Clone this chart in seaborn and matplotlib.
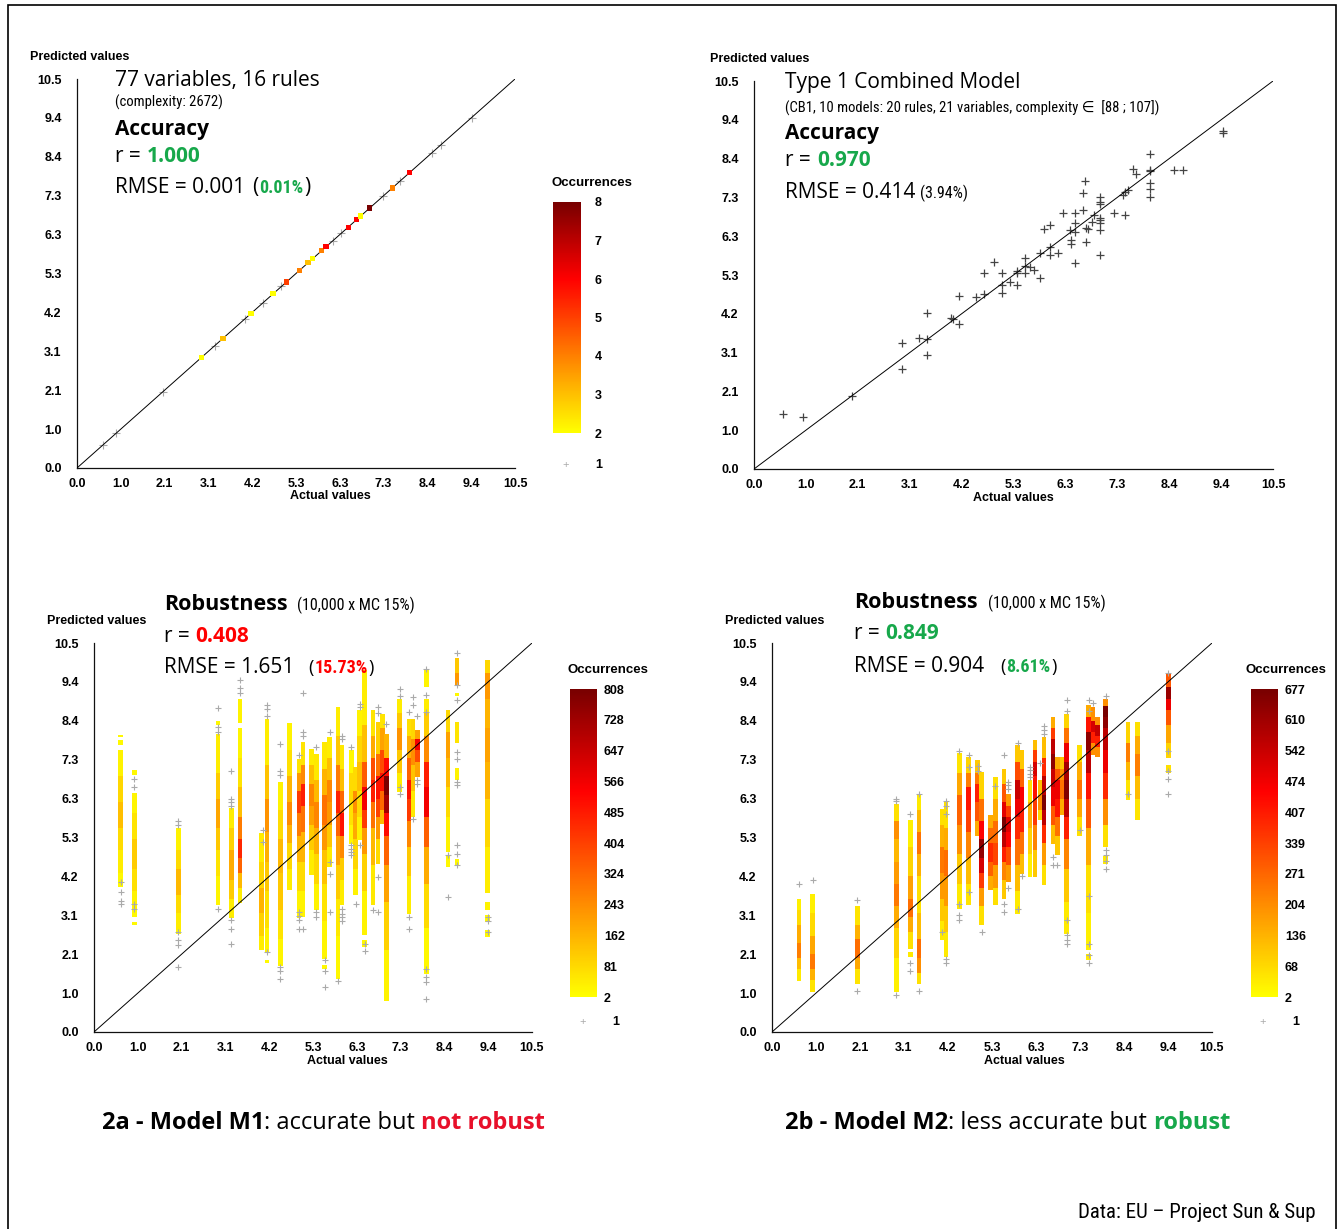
import matplotlib
matplotlib.use("Agg")
import matplotlib.pyplot as plt
import matplotlib.colors as mcolors
from matplotlib import font_manager
from matplotlib.patches import Rectangle
import numpy as np
import pandas as pd
import seaborn as sns

# ---------------- data ----------------
tick_labels = ["0.0", "1.0", "2.1", "3.1", "4.2", "5.3", "6.3", "7.3", "8.4", "9.4", "10.5"]

# M1 accuracy: points on the diagonal (actual == predicted)
m1_acc_x = [2.98, 3.50, 4.17, 4.70, 5.02, 5.33, 5.54, 5.65, 5.86, 5.97, 6.50, 6.70, 6.80, 7.02, 7.56, 7.97]
m1_acc_n = [2, 3, 2, 2, 5, 4, 3, 2, 4, 6, 6, 6, 2, 8, 4, 6]
m1_acc_single = [0.62, 0.94, 2.05, 3.3, 4.02, 4.46, 4.9, 6.14, 6.34, 7.34, 7.74, 8.5, 8.72, 9.46]

# M2 accuracy: (actual, predicted)
m2_acc = [(0.59, 1.49), (0.99, 1.42), (1.99, 1.98), (3.0, 3.40), (3.0, 2.70), (3.34, 3.54),
          (3.50, 4.23), (3.50, 3.51), (3.50, 3.09), (3.98, 4.08), (4.02, 4.05), (4.15, 4.68),
          (4.15, 3.92), (4.50, 4.66), (4.66, 5.30), (4.66, 4.73), (4.85, 5.61), (5.01, 5.30),
          (5.01, 4.98), (5.01, 4.75), (5.17, 5.05), (5.32, 5.30), (5.32, 4.98), (5.32, 5.36),
          (5.49, 5.70), (5.49, 5.50), (5.49, 5.31), (5.59, 5.48), (5.67, 5.39), (5.79, 5.16),
          (5.79, 5.84), (5.86, 6.49), (5.98, 6.60), (5.98, 6.02), (5.98, 5.79), (6.15, 5.84),
          (6.25, 6.92), (6.39, 6.47), (6.41, 6.20), (6.41, 6.09), (6.50, 6.92), (6.50, 6.66),
          (6.50, 6.42), (6.50, 5.58), (6.66, 7.46), (6.66, 7.01), (6.70, 7.79), (6.71, 6.53),
          (6.71, 6.15), (6.76, 6.49), (6.83, 6.69), (6.87, 6.87), (7.01, 7.37), (7.01, 7.23),
          (7.01, 7.17), (7.01, 6.80), (7.01, 6.74), (7.01, 6.67), (7.01, 6.47), (7.01, 5.79),
          (7.28, 6.94), (7.47, 7.41), (7.50, 7.50), (7.50, 6.87), (7.57, 7.56), (7.67, 8.13),
          (7.72, 7.97), (8.02, 8.52), (8.02, 8.10), (8.02, 8.07), (8.02, 7.73), (8.02, 7.57),
          (8.02, 7.37), (8.50, 8.09), (8.68, 8.09), (9.49, 9.15), (9.49, 9.08)]

# M1 robustness strips: x, segment edges, occurrences per segment (0 = gap)
m1_strip_x = [0.64, 0.97, 2.02, 2.97, 3.29, 3.5, 4.02, 4.15, 4.47, 4.69, 4.91, 5.01, 5.21, 5.33,
              5.53, 5.65, 5.85, 5.95, 6.17, 6.27, 6.37, 6.49, 6.69, 6.81, 6.91, 7.01, 7.33, 7.55,
              7.65, 7.75, 7.97, 8.49, 8.7, 9.44]
m1_strip_edges = [
    [3.91, 4.3, 4.9, 5.5, 6.2, 6.9, 7.62, 7.74, 7.87, 7.96, 8.03],
    [2.9, 2.98, 3.1, 3.28, 3.8, 4.4, 5.2, 5.9, 6.46, 6.95, 7.08],
    [2.64, 2.74, 3.2, 3.7, 4.4, 4.9, 5.51],
    [3.42, 4.2, 4.9, 5.5, 6.3, 7.0, 8.05, 8.3, 8.4],
    [3.09, 3.6, 4.1, 4.9, 5.5, 6.05],
    [3.48, 3.9, 4.3, 4.7, 5.2, 5.8, 6.6, 7.4, 8.2, 8.35, 9.0],
    [2.22, 2.6, 3.2, 3.9, 4.6, 5.37],
    [1.85, 1.95, 2.16, 2.8, 3.8, 4.6, 5.4, 6.3, 7.2, 8.45],
    [1.77, 2.5, 3.3, 4.3, 5.2, 6.0, 6.75],
    [3.82, 4.4, 5.1, 5.6, 6.2, 6.9, 7.6, 8.35],
    [3.09, 3.8, 4.6, 5.3, 5.9, 6.5, 7.0, 7.38],
    [3.1, 3.8, 4.6, 5.4, 6.1, 6.7, 7.2, 7.83],
    [4.23, 4.9, 5.6, 6.1, 6.7, 7.2, 7.65],
    [3.28, 4.0, 4.8, 5.5, 6.2, 6.8, 7.51],
    [1.7, 1.82, 1.98, 3.0, 4.0, 4.9, 5.6, 6.4, 7.1, 7.83],
    [4.45, 5.0, 5.6, 6.2, 6.8, 7.4, 7.96],
    [1.44, 2.6, 3.6, 4.5, 5.3, 5.9, 6.5, 7.2, 8.0, 8.77],
    [3.42, 4.1, 4.7, 5.3, 5.9, 6.5, 7.1, 7.74],
    [5.08, 5.6, 6.2, 7.0, 7.6],
    [3.71, 4.4, 5.2, 5.9, 6.5, 7.15],
    [5.17, 5.8, 6.5, 7.3, 8.0, 8.68],
    [2.3, 2.47, 2.62, 3.8, 4.8, 5.5, 6.0, 6.6, 7.3, 8.3, 9.76],
    [3.42, 4.5, 5.5, 6.2, 6.8, 7.4, 8.0, 8.68],
    [4.54, 5.2, 5.8, 6.3, 6.9, 7.5, 8.37],
    [5.62, 6.0, 6.5, 7.0, 7.6, 8.2, 8.59],
    [0.85, 2.2, 3.5, 4.5, 5.3, 5.9, 6.4, 6.9, 7.4, 8.05],
    [6.48, 7.0, 7.6, 8.2, 8.6, 9.0],
    [3.19, 4.2, 5.0, 5.7, 6.3, 6.8, 7.4, 8.0, 8.45],
    [5.8, 6.5, 7.2, 7.9, 8.45],
    [6.88, 7.3, 7.6, 7.9, 8.16],
    [1.57, 2.8, 4.0, 5.0, 5.8, 6.6, 7.3, 8.0, 8.6, 9.0, 9.3, 9.76],
    [4.45, 4.75, 4.85, 5.8, 6.6, 7.4, 8.1, 8.7],
    [4.47, 4.68, 6.79, 7.12, 7.79, 8.36, 9.07, 9.15, 9.36, 9.7, 10.09],
    [2.56, 2.75, 2.98, 3.15, 3.28, 3.5, 3.75, 5.0, 6.3, 7.3, 8.2, 9.0, 9.7, 10.05],
]
m1_strip_counts = [
    [15, 40, 80, 140, 90, 30, 0, 15, 0, 15],
    [15, 0, 15, 30, 70, 110, 60, 25, 0, 15],
    [15, 40, 80, 150, 80, 30],
    [25, 60, 120, 190, 110, 40, 0, 15],
    [40, 110, 180, 100, 40],
    [40, 150, 330, 460, 280, 140, 60, 25, 0, 30],
    [40, 100, 160, 90, 40],
    [15, 0, 30, 70, 120, 170, 230, 130, 40],
    [25, 60, 120, 150, 80, 30],
    [40, 90, 170, 250, 160, 70, 30],
    [30, 80, 160, 280, 420, 220, 60],
    [30, 80, 160, 300, 480, 250, 60],
    [40, 110, 200, 260, 140, 40],
    [30, 90, 170, 260, 150, 50],
    [15, 0, 25, 60, 130, 220, 300, 160, 50],
    [40, 120, 220, 260, 140, 40],
    [20, 50, 110, 200, 330, 470, 280, 120, 40],
    [40, 110, 250, 500, 320, 140, 50],
    [20, 60, 80, 20],
    [30, 90, 180, 240, 80],
    [30, 80, 140, 90, 30],
    [15, 0, 30, 100, 220, 420, 560, 350, 140, 40],
    [50, 150, 300, 480, 380, 180, 60],
    [80, 220, 400, 500, 300, 100],
    [150, 320, 500, 380, 200, 60],
    [30, 100, 200, 330, 520, 720, 800, 520, 160],
    [40, 120, 230, 120, 40],
    [40, 120, 260, 420, 500, 330, 180, 70],
    [50, 130, 240, 90],
    [200, 380, 560, 200],
    [20, 80, 180, 340, 560, 480, 250, 110, 40, 0, 25],
    [20, 0, 30, 80, 150, 200, 90],
    [20, 0, 30, 0, 60, 0, 20, 0, 220, 120],
    [20, 0, 20, 0, 30, 0, 40, 90, 160, 200, 160, 220, 90],
]
m1_single = [(0.64, 4.05), (0.64, 3.78), (0.64, 3.54), (0.64, 3.46), (0.97, 6.82), (0.97, 6.61),
             (0.97, 3.46), (0.97, 3.33), (2.02, 5.69), (2.02, 5.58), (2.02, 2.7), (2.02, 2.47),
             (2.02, 2.36), (2.02, 1.75), (2.97, 8.74), (2.97, 8.23), (2.97, 8.1), (2.97, 3.33),
             (3.29, 7.04), (3.29, 6.3), (3.29, 6.2), (3.29, 6.1), (3.29, 3.03), (3.29, 2.79),
             (3.29, 2.38), (3.5, 9.51), (3.5, 9.29), (3.5, 9.15), (4.05, 5.44), (4.05, 5.13),
             (4.15, 8.82), (4.15, 8.73), (4.15, 8.52), (4.15, 2.16), (4.47, 7.78), (4.47, 7.04),
             (4.47, 6.95), (4.47, 1.75), (4.47, 1.65), (4.47, 1.42), (4.91, 7.47), (4.91, 3.24),
             (4.91, 3.12), (4.91, 3.03), (4.91, 2.79), (5.01, 9.15), (5.01, 8.1), (5.01, 8.0),
             (5.01, 2.79), (5.33, 7.69), (5.33, 3.24), (5.33, 3.1), (5.53, 1.93), (5.53, 1.66),
             (5.53, 1.21), (5.65, 8.1), (5.65, 4.59), (5.65, 4.27), (5.65, 3.24), (5.85, 1.39),
             (5.95, 8.0), (5.95, 7.92), (5.95, 3.33), (5.95, 3.19), (5.95, 3.1), (5.95, 3.0),
             (6.17, 7.69), (6.17, 5.04), (6.17, 4.95), (6.17, 4.86), (6.17, 4.77), (6.27, 3.46),
             (6.37, 8.86), (6.37, 8.77), (6.37, 5.04), (6.49, 2.38), (6.49, 2.19), (6.69, 3.28),
             (6.81, 8.77), (6.81, 8.6), (6.81, 4.18), (6.81, 3.24), (7.01, 8.32), (7.33, 9.27),
             (7.33, 9.06), (7.33, 6.61), (7.33, 6.43), (7.55, 8.64), (7.55, 3.1), (7.55, 2.79),
             (7.65, 9.04), (7.65, 8.82), (7.65, 5.76), (7.75, 8.52), (7.75, 6.79), (7.75, 6.7),
             (7.97, 9.8), (7.97, 9.09), (7.97, 8.64), (7.97, 1.71), (7.97, 1.48), (7.97, 1.35),
             (7.97, 0.9), (8.49, 4.77), (8.49, 3.64), (8.7, 10.23), (8.7, 9.36), (8.7, 8.95),
             (8.7, 7.56), (8.7, 7.38), (8.7, 6.75), (8.7, 6.66), (8.7, 5.04), (8.7, 4.81),
             (8.7, 4.5), (9.44, 3.1), (9.44, 3.0), (9.44, 2.7)]

# M2 robustness strips
m2_strip_x = [0.64, 0.97, 2.04, 2.97, 3.3, 3.51, 4.06, 4.15, 4.47, 4.69, 4.91, 5.0, 5.21, 5.33,
              5.54, 5.64, 5.86, 5.97, 6.16, 6.28, 6.4, 6.49, 6.71, 6.81, 6.92, 7.03, 7.34, 7.56,
              7.66, 7.77, 7.96, 8.5, 8.72, 9.46]
m2_strip_edges = [
    [1.39, 1.7, 2.0, 2.4, 2.9, 3.3, 3.6],
    [1.08, 1.4, 1.7, 2.1, 2.6, 3.2, 3.73],
    [1.3, 1.7, 2.0, 2.5, 2.9, 3.39],
    [1.08, 2.0, 2.8, 3.4, 4.0, 4.6, 5.2, 5.7, 6.16],
    [2.02, 2.15, 2.25, 2.7, 3.1, 3.6, 4.2, 5.0, 5.71],
    [1.29, 1.6, 2.0, 2.5, 3.2, 4.2, 4.8, 5.4, 6.0, 6.39],
    [2.47, 3.0, 3.6, 4.3, 5.0, 5.6, 6.03],
    [2.02, 2.7, 3.4, 4.2, 4.9, 5.5, 6.23],
    [3.33, 4.0, 4.8, 5.6, 6.4, 7.0, 7.53],
    [3.42, 4.0, 4.7, 5.4, 6.0, 6.6, 7.0, 7.42],
    [5.3, 5.7, 6.2, 6.7, 7.0, 7.33],
    [2.88, 3.4, 3.9, 4.3, 4.7, 5.2, 5.7, 6.3, 7.02],
    [3.82, 4.2, 4.6, 5.1, 5.5, 5.85],
    [3.42, 3.9, 4.5, 5.1, 5.7, 6.3, 6.88],
    [3.6, 4.1, 4.6, 5.0, 5.4, 5.8, 6.2, 6.7, 7.1],
    [4.05, 4.5, 5.0, 5.4, 5.8, 6.1, 6.43],
    [3.19, 3.8, 4.5, 5.2, 5.8, 6.3, 6.8, 7.3, 7.74],
    [4.27, 4.8, 5.4, 6.0, 6.6, 7.1, 7.6],
    [4.18, 4.8, 5.5, 6.2, 6.79],
    [4.18, 4.9, 5.6, 6.3, 6.9, 7.3, 7.6, 7.87],
    [5.71, 6.0, 6.4, 6.79],
    [3.96, 4.5, 5.1, 5.6, 6.0, 6.4, 6.9, 7.4, 7.96],
    [5.08, 5.6, 6.1, 6.6, 7.1, 7.5, 7.9, 8.2, 8.5],
    [4.77, 5.3, 5.8, 6.3, 6.8, 7.1, 7.42],
    [5.85, 6.3, 6.8, 7.1, 7.42],
    [2.65, 3.5, 4.4, 5.2, 5.8, 6.3, 6.8, 7.3, 7.8, 8.2, 8.59],
    [5.3, 5.8, 6.3, 6.8, 7.3, 7.74],
    [1.93, 2.1, 2.2, 3.2, 4.5, 5.5, 6.3, 7.0, 7.6, 8.1, 8.5, 8.82],
    [7.47, 7.8, 8.1, 8.4, 8.77],
    [7.42, 7.7, 8.0, 8.3, 8.5],
    [4.54, 4.75, 5.0, 5.6, 6.3, 7.0, 7.6, 8.2, 8.5, 8.8, 9.0],
    [6.25, 6.8, 7.3, 7.8, 8.37],
    [5.71, 6.3, 6.9, 7.5, 8.0, 8.37],
    [7.0, 7.2, 7.4, 7.8, 8.3, 8.7, 9.0, 9.3, 9.67],
]
m2_strip_counts = [
    [40, 120, 230, 150, 70, 30],
    [50, 140, 240, 160, 70, 30],
    [50, 160, 260, 140, 50],
    [30, 80, 150, 240, 180, 130, 200, 60],
    [40, 0, 60, 150, 260, 170, 80, 30],
    [60, 200, 260, 120, 60, 140, 250, 130, 40],
    [40, 100, 180, 240, 140, 60],
    [40, 100, 180, 260, 150, 60],
    [40, 100, 200, 280, 160, 50],
    [50, 120, 220, 340, 420, 230, 80],
    [150, 300, 400, 240, 100],
    [60, 180, 350, 520, 630, 450, 250, 80],
    [150, 280, 380, 260, 150],
    [60, 180, 330, 260, 150, 60],
    [100, 220, 400, 560, 670, 500, 300, 100],
    [180, 320, 450, 500, 350, 180],
    [40, 120, 250, 380, 480, 540, 320, 100],
    [120, 250, 400, 460, 280, 100],
    [30, 80, 140, 60],
    [100, 220, 350, 420, 520, 350, 120],
    [80, 200, 120],
    [60, 180, 380, 560, 670, 560, 380, 120],
    [120, 300, 480, 540, 640, 560, 350, 150],
    [100, 250, 420, 480, 300, 150],
    [150, 250, 200, 100],
    [40, 100, 220, 400, 560, 660, 600, 480, 250, 80],
    [60, 150, 250, 150, 60],
    [40, 0, 30, 60, 150, 300, 420, 560, 640, 420, 150],
    [200, 400, 520, 200],
    [200, 400, 550, 200],
    [40, 0, 60, 200, 380, 480, 560, 640, 677, 200],
    [50, 130, 230, 80],
    [50, 120, 230, 150, 60],
    [60, 0, 80, 160, 300, 480, 620, 300],
]
m2_single = [(0.64, 3.99), (0.97, 4.09), (2.04, 3.55), (2.04, 1.12), (2.97, 6.3), (2.97, 6.23),
             (2.97, 0.99), (3.3, 5.89), (3.3, 1.86), (3.3, 1.65), (3.51, 6.43), (3.51, 1.12),
             (4.06, 2.7), (4.15, 6.23), (4.15, 6.09), (4.15, 5.89), (4.15, 1.98), (4.15, 1.86),
             (4.47, 7.58), (4.47, 3.46), (4.47, 3.15), (4.47, 3.03), (4.69, 7.49), (4.69, 7.15),
             (4.69, 3.78), (4.91, 7.17), (4.91, 7.04), (5.0, 2.7), (5.33, 6.63), (5.54, 7.49),
             (5.54, 3.46), (5.54, 3.24), (5.64, 6.75), (5.64, 6.66), (5.64, 6.57), (5.64, 3.9),
             (5.86, 7.8), (5.86, 3.33), (5.97, 4.2), (6.16, 7.15), (6.16, 7.06), (6.16, 6.97),
             (6.16, 6.88), (6.4, 7.26), (6.49, 8.25), (6.49, 8.14), (6.49, 8.05), (6.71, 4.72),
             (6.71, 4.5), (6.81, 4.5), (7.03, 8.97), (7.03, 8.66), (7.03, 3.01), (7.03, 2.61),
             (7.03, 2.49), (7.03, 2.38), (7.34, 5.46), (7.56, 8.97), (7.56, 8.66), (7.56, 3.66),
             (7.56, 2.38), (7.56, 2.07), (7.56, 1.86), (7.66, 8.88), (7.96, 9.06), (7.96, 4.9),
             (7.96, 4.77), (7.96, 4.61), (7.96, 4.41), (8.5, 6.43), (9.46, 9.69), (9.46, 7.58),
             (9.46, 7.04), (9.46, 6.84), (9.46, 6.43)]

cbar_top_labels = ["2", "3", "4", "5", "6", "7", "8"]
cbar_m1_labels = ["2", "81", "162", "243", "324", "404", "485", "566", "647", "728", "808"]
cbar_m2_labels = ["2", "68", "136", "204", "271", "339", "407", "474", "542", "610", "677"]

# ---------------- style ----------------
sns.set_style("white")
plt.rcParams['font.family'] = ['Open Sans', 'DejaVu Sans']
plt.rcParams['text.color'] = 'black'
plt.rcParams['xtick.color'] = 'black'
plt.rcParams['ytick.color'] = 'black'

# pick a narrow face for the condensed annotations, if one is installed
names = {f.name for f in font_manager.fontManager.ttflist}
NARROW = dict(family=['Roboto', 'DejaVu Sans'])
NSCALE = 0.86
for cand in ['Roboto Condensed', 'Liberation Sans Narrow', 'Open Sans Condensed',
             'Noto Sans Condensed', 'DejaVu Sans Condensed']:
    if cand in names:
        NARROW = dict(family=[cand, 'DejaVu Sans'])
        NSCALE = 1.0
        break


def nar(size, **kw):
    d = dict(NARROW)
    d['fontsize'] = size * NSCALE
    d.update(kw)
    return d


TICKF = ['Liberation Sans', 'DejaVu Sans']
GREEN = '#17a84b'
RED = '#ff0000'
CRIMSON = '#e8102a'
cmap = mcolors.LinearSegmentedColormap.from_list(
    'occ', [(0, '#ffff00'), (0.667, '#ff0000'), (1, '#780000')])

W, H = 1344, 1229
fig = plt.figure(figsize=(W / 100, H / 100), dpi=100)
renderer = fig.canvas.get_renderer()


def px_axes(x0, y0, x1, y1):
    return fig.add_axes([x0 / W, 1 - y1 / H, (x1 - x0) / W, (y1 - y0) / H])


def ftext(x, y, s, **kw):
    kw.setdefault('va', 'baseline')
    return fig.text(x / W, 1 - y / H, s, **kw)


def rich(x, y, parts):
    # parts: (text, kwargs, gap after in px)
    for s, kw, gap in parts:
        t = ftext(x, y, s, ha='left', **kw)
        x += t.get_window_extent(renderer).width + gap


tick_pos = np.linspace(0, 10.5, len(tick_labels))


def style_axes(ax):
    ax.set_xlim(0, 10.5)
    ax.set_ylim(0, 10.5)
    ax.set_xticks(tick_pos, tick_labels, fontsize=9, fontweight='bold', family=TICKF)
    ax.set_yticks(tick_pos, tick_labels, fontsize=9, fontweight='bold', family=TICKF)
    for s in ['top', 'right']:
        ax.spines[s].set_visible(False)
    for s in ['left', 'bottom']:
        ax.spines[s].set_color('#111111')
        ax.spines[s].set_linewidth(0.9)
    ax.tick_params(axis='y', length=7, width=0.8, direction='out', pad=4, colors='black')
    ax.tick_params(axis='x', length=0, pad=7, colors='black')
    ax.set_xlabel('')
    ax.set_ylabel('')
    ax.patch.set_alpha(0)
    ax.plot([0, 10.5], [0, 10.5], color='black', lw=0.7, zorder=4)


def draw_strips(ax, xs, edges, counts, norm):
    rows = []
    for x, e, c in zip(xs, edges, counts):
        for lo, hi, n in zip(e[:-1], e[1:], c):
            if n > 0:
                rows.append((x, lo, hi - lo, n))
    seg = pd.DataFrame(rows, columns=['x', 'bottom', 'height', 'count'])
    ax.bar(seg['x'], seg['height'], bottom=seg['bottom'], width=0.11,
           color=cmap(norm(seg['count'].to_numpy())), linewidth=0, zorder=2)


def singles(ax, pts):
    df = pd.DataFrame(pts, columns=['x', 'y'])
    sns.scatterplot(data=df, x='x', y='y', ax=ax, marker='+', s=22, color='#aaaaaa',
                    linewidth=0.8, zorder=3)


def colorbar(box, norm, labels, pad, title_xy, one_xy):
    cax = px_axes(*box)
    sm = plt.cm.ScalarMappable(norm=norm, cmap=cmap)
    cb = fig.colorbar(sm, cax=cax)
    cb.outline.set_visible(False)
    cb.set_ticks(np.linspace(norm.vmin, norm.vmax, len(labels)))
    cb.set_ticklabels(labels)
    cax.tick_params(length=0, pad=pad, labelsize=9)
    for lab in cax.get_yticklabels():
        lab.set_fontweight('bold')
        lab.set_family(TICKF)
    ftext(title_xy[0], title_xy[1], "Occurrences", fontsize=9.5, fontweight='bold', family=TICKF)
    ftext(one_xy[0], one_xy[1], "+", fontsize=8, color='#aaaaaa', family=TICKF, va='center',
          ha='center')
    ftext(one_xy[2], one_xy[1], "1", fontsize=9, fontweight='bold', family=TICKF, va='center')


# ---------------- panel 1: M1 accuracy ----------------
ax1 = px_axes(77, 79, 515, 468)
df1 = pd.DataFrame({'x': m1_acc_x, 'y': m1_acc_x, 'n': m1_acc_n})
sns.scatterplot(data=pd.DataFrame({'x': m1_acc_single, 'y': m1_acc_single}), x='x', y='y',
                ax=ax1, marker='+', s=26, color='#aaaaaa', linewidth=0.8, zorder=3)
norm_top = mcolors.Normalize(2, 8)
sns.scatterplot(data=df1, x='x', y='y', hue='n', palette=cmap, hue_norm=norm_top, ax=ax1,
                marker='s', s=14, linewidth=0, legend=False, zorder=5)
style_axes(ax1)
colorbar((553, 202, 581, 433), norm_top, cbar_top_labels, 10, (552, 186), (566, 465, 595))

# ---------------- panel 2: M2 accuracy ----------------
ax2 = px_axes(754, 81, 1273, 469)
df2 = pd.DataFrame(m2_acc, columns=['x', 'y'])
sns.scatterplot(data=df2, x='x', y='y', ax=ax2, marker='+', s=30, color='#444444',
                linewidth=0.9, zorder=3)
style_axes(ax2)

# ---------------- panel 3: M1 robustness ----------------
ax3 = px_axes(94, 643, 532, 1032)
norm_m1 = mcolors.Normalize(2, 808)
draw_strips(ax3, m1_strip_x, m1_strip_edges, m1_strip_counts, norm_m1)
singles(ax3, m1_single)
style_axes(ax3)
colorbar((570, 689, 597, 997), norm_m1, cbar_m1_labels, 5, (568, 673), (583, 1022, 612))

# ---------------- panel 4: M2 robustness ----------------
ax4 = px_axes(772, 643, 1212, 1032)
norm_m2 = mcolors.Normalize(2, 677)
draw_strips(ax4, m2_strip_x, m2_strip_edges, m2_strip_counts, norm_m2)
singles(ax4, m2_single)
style_axes(ax4)
colorbar((1251, 689, 1278, 997), norm_m2, cbar_m2_labels, 5, (1246, 673), (1263, 1022, 1292))

# ---------------- axis titles ----------------
small_bold = dict(fontsize=9, fontweight='bold', family=TICKF)
for x, y in [(30, 60), (710, 62), (47, 624), (725, 624)]:
    ftext(x, y, "Predicted values", **small_bold)
for x, y in [(330, 499), (1013, 501), (347, 1064), (1024, 1064)]:
    ftext(x, y, "Actual values", ha='center', **small_bold)

# ---------------- annotations ----------------
REG = dict(fontsize=15)
BIG = dict(fontsize=15, fontweight='bold')

# top-left
ftext(115, 86, "77 variables, 16 rules", fontsize=15)
ftext(115, 107, "(complexity: 2672)", **nar(10.5))
ftext(115, 135, "Accuracy", **BIG)
rich(115, 162, [("r =", REG, 6), ("1.000", dict(fontsize=15, fontweight='bold', color=GREEN), 0)])
rich(115, 193, [("RMSE = 0.001", REG, 7), ("(", REG, 1),
                ("0.01%", nar(13, fontweight='bold', color=GREEN), 1),
                (")", REG, 0)])

# top-right
ftext(785, 88, "Type 1 Combined Model", fontsize=15)
ftext(785, 113, "(CB1, 10 models: 20 rules, 21 variables, complexity \u2208  [88 ; 107])", **nar(10.5))
ftext(785, 139, "Accuracy", **BIG)
rich(785, 166, [("r =", REG, 6), ("0.970", dict(fontsize=15, fontweight='bold', color=GREEN), 0)])
rich(785, 198, [("RMSE = 0.414", REG, 5), ("(3.94%)", nar(11.5), 0)])

# bottom-left
ftext(164, 610, "Robustness", fontsize=15.5, fontweight='bold')
ftext(297, 610, "(10,000 x MC 15%)", **nar(11.5))
rich(164, 642, [("r =", REG, 6), ("0.408", dict(fontsize=15, fontweight='bold', color=RED), 0)])
ftext(164, 673, "RMSE = 1.651", **REG)
rich(308, 673, [("(", dict(fontsize=13), 1),
                ("15.73%", nar(13, fontweight='bold', color=RED), 1),
                (")", dict(fontsize=13), 0)])

# bottom-right
ftext(854, 608, "Robustness", fontsize=15.5, fontweight='bold')
ftext(988, 608, "(10,000 x MC 15%)", **nar(11.5))
rich(854, 639, [("r =", REG, 6), ("0.849", dict(fontsize=15, fontweight='bold', color=GREEN), 0)])
ftext(854, 672, "RMSE = 0.904", **REG)
rich(1000, 672, [("(", dict(fontsize=13), 1),
                 ("8.61%", nar(13, fontweight='bold', color=GREEN), 1),
                 (")", dict(fontsize=13), 0)])

# captions
CAPB = dict(fontsize=17, fontweight='bold')
CAPR = dict(fontsize=17)
rich(102, 1129, [("2a - Model M1", CAPB, 0), (": accurate but", CAPR, 6),
                 ("not robust", dict(fontsize=17, fontweight='bold', color=CRIMSON), 0)])
rich(785, 1129, [("2b - Model M2", CAPB, 0), (": less accurate but", CAPR, 6),
                 ("robust", dict(fontsize=17, fontweight='bold', color=GREEN), 0)])

ftext(1316, 1218, "Data: EU \u2013 Project Sun & Sup", ha='right', **nar(15))

# frame
fig.patches.append(Rectangle((8 / W, -0.01), (1336 - 8) / W, 1.01 - 5 / H, transform=fig.transFigure,
                             fill=False, ec='black', lw=1.2))

fig.savefig("out.png", dpi=100)
